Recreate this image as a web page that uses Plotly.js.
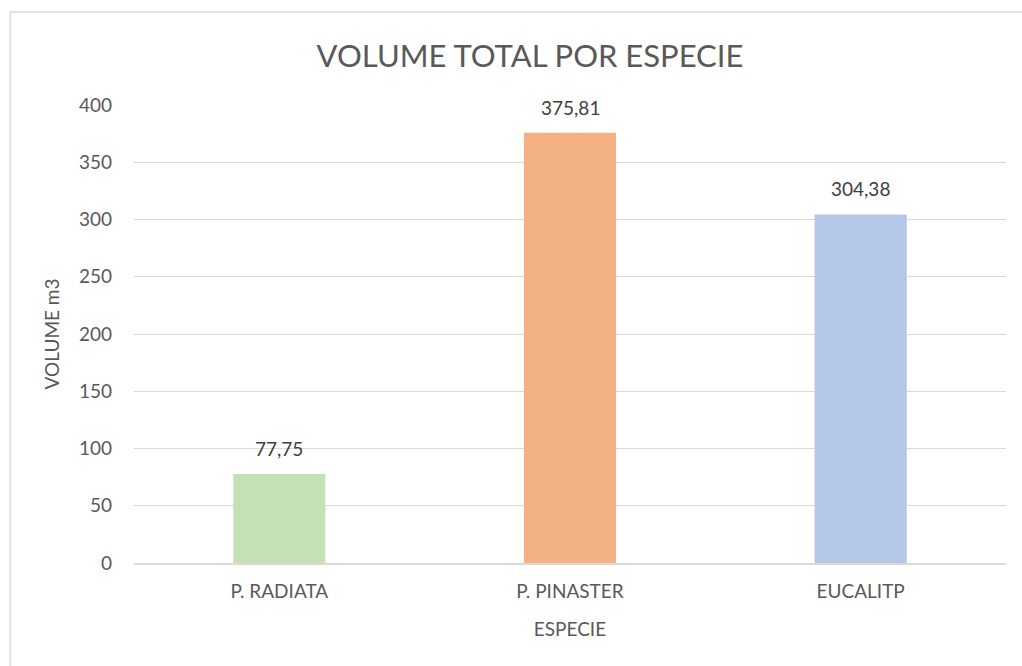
<!DOCTYPE html>
<html>
<head>
<meta charset="utf-8">
<script src="https://cdn.plot.ly/plotly-3.0.1.min.js"></script>
<style>html,body{margin:0;padding:0;background:#fff;}#chart{width:1022px;height:666px;}</style>
</head>
<body>
<div id="chart"></div>
<script>
const categories = ["P. RADIATA", "P. PINASTER", "EUCALITP"];
const volumes = [77.75, 375.81, 304.38];
const labels = ["77,75", "375,81", "304,38"];
const colors = ["#c5e0b4", "#f4b183", "#b4c7e7"];

const font = "Lato, 'Open Sans', sans-serif";
const trace = {
  type: "bar",
  x: categories,
  y: volumes,
  marker: {color: colors},
  hoverinfo: "none"
};
const annotations = categories.map((c, i) => ({
  x: c, y: volumes[i], xref: "x", yref: "y",
  text: labels[i], showarrow: false, yanchor: "bottom", yshift: 12,
  font: {family: font, size: 19, color: "#404040"}
}));
const layout = {
  width: 1022, height: 666,
  margin: {l: 134, r: 16, t: 105, b: 103},
  paper_bgcolor: "#fff", plot_bgcolor: "#fff",
  showlegend: false,
  bargap: 0.683,
  title: {text: "VOLUME TOTAL POR ESPECIE", xref: "container", x: 530 / 1022, xanchor: "center",
    yref: "container", y: 1 - 56 / 666, yanchor: "middle",
    font: {family: font, size: 31, color: "#595959"}},
  xaxis: {
    title: {text: "ESPECIE", font: {family: font, size: 19, color: "#595959"}, standoff: 21},
    tickfont: {family: font, size: 19, color: "#595959"},
    showline: true, linecolor: "#d9d9d9", linewidth: 1.5, ticks: "", fixedrange: true,
    ticklabelstandoff: 11
  },
  yaxis: {
    title: {text: "VOLUME m3", font: {family: font, size: 19, color: "#595959"}, standoff: 14},
    range: [0, 400], dtick: 50, tickfont: {family: font, size: 19, color: "#595959"},
    gridcolor: "#d9d9d9", gridwidth: 1, zeroline: false, ticks: "", ticklen: 0, fixedrange: true,
    ticklabelstandoff: 21
  },
  annotations: annotations,
  shapes: [{type: "rect", xref: "paper", yref: "paper", x0: -0.142, x1: 1.03, y0: -0.25, y1: 1.203,
    line: {color: "#d9d9d9", width: 1.5}, fillcolor: "rgba(0,0,0,0)", layer: "below"}]
};
Plotly.newPlot("chart", [trace], layout, {displayModeBar: false, staticPlot: true});
</script>
</body>
</html>
